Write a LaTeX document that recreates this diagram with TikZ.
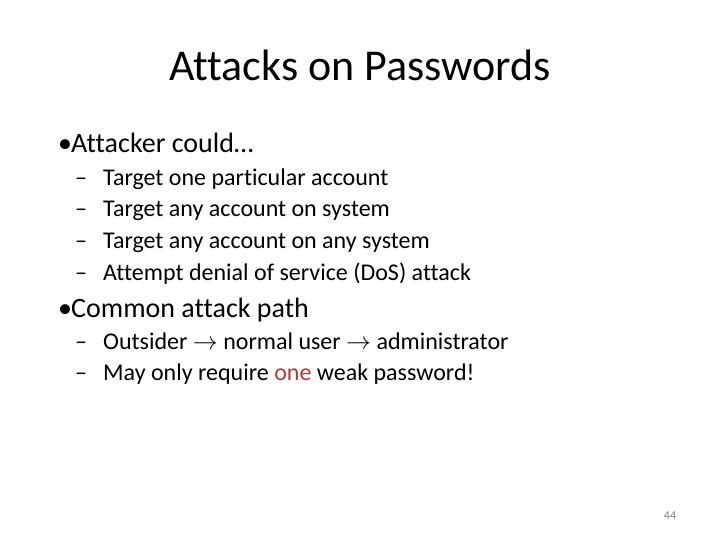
\documentclass[tikz,border=0pt]{standalone}
\usepackage{fontspec}
\setmainfont[RawFeature=-liga]{Carlito}
\definecolor{hl}{RGB}{170,60,60}
\begin{document}
\begin{tikzpicture}[x=1pt,y=-1pt,
  t/.style={anchor=base west,inner sep=0pt},
  l1/.style={t,font=\fontsize{28}{32}\selectfont},
  l2/.style={t,font=\fontsize{24}{28}\selectfont}]
\useasboundingbox (0,0) rectangle (720,540);
\node[anchor=base,inner sep=0pt,font=\fontsize{44}{48}\selectfont] (title) at (360,81) {Attacks on Passwords};
\node[l1] (b1d) at (58,153) {•};
\node[l1] (b1) at (71,153) {Attacker could…};
\foreach \y/\s [count=\i] in {186/Target one particular account,217/Target any account on system,248/Target any account on any system,280/Attempt denial of service (DoS) attack}{
  \node[l2] (d\i) at (75,\y) {–};
  \node[l2] (s\i) at (103,\y) {\s};
}
\node[l1] (b2d) at (58,317) {•};
\node[l1] (b2) at (71,317) {Common attack path};
\node[l2] (e1) at (75,349) {–};
\node[l2] (u1) at (103,349) {Outsider $\rightarrow$ normal user $\rightarrow$ administrator};
\node[l2] (e2) at (75,380) {–};
\node[l2] (u2) at (103,380) {May only require \textcolor{hl}{one} weak password!};
\node[anchor=base,inner sep=0pt,font=\fontsize{12}{14}\selectfont,text=gray] (pg) at (670,519) {44};
\end{tikzpicture}
\end{document}
